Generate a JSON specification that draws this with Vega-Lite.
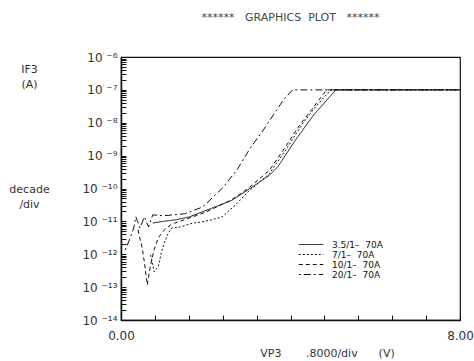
{
  "$schema": "https://vega.github.io/schema/vega-lite/v6.json",
  "width": 339,
  "height": 263,
  "autosize": "none",
  "padding": {"left": 121, "top": 57, "right": 14, "bottom": 41},
  "background": "white",
  "title": {
    "text": "******\u00a0\u00a0\u00a0GRAPHICS\u00a0\u00a0PLOT\u00a0\u00a0\u00a0******",
    "anchor": "middle",
    "font": "DejaVu Sans",
    "fontSize": 11,
    "fontWeight": "normal",
    "color": "#444",
    "offset": 28
  },
  "config": {
    "view": {"stroke": "#111", "strokeWidth": 1.2},
    "font": "DejaVu Sans"
  },
  "data": {
    "values": [
      {"s": "3.5/1–\u00a0\u00a070A", "v": 0.75, "i": 8.91e-12},
      {"s": "3.5/1–\u00a0\u00a070A", "v": 1.0, "i": 1e-11},
      {"s": "3.5/1–\u00a0\u00a070A", "v": 1.3, "i": 1.12e-11},
      {"s": "3.5/1–\u00a0\u00a070A", "v": 1.62, "i": 1.38e-11},
      {"s": "3.5/1–\u00a0\u00a070A", "v": 2.1, "i": 2.4e-11},
      {"s": "3.5/1–\u00a0\u00a070A", "v": 2.6, "i": 4.27e-11},
      {"s": "3.5/1–\u00a0\u00a070A", "v": 3.0, "i": 9.12e-11},
      {"s": "3.5/1–\u00a0\u00a070A", "v": 3.5, "i": 2.51e-10},
      {"s": "3.5/1–\u00a0\u00a070A", "v": 3.7, "i": 4.57e-10},
      {"s": "3.5/1–\u00a0\u00a070A", "v": 3.93, "i": 1.29e-9},
      {"s": "3.5/1–\u00a0\u00a070A", "v": 4.17, "i": 3.72e-9},
      {"s": "3.5/1–\u00a0\u00a070A", "v": 4.55, "i": 1.74e-8},
      {"s": "3.5/1–\u00a0\u00a070A", "v": 5.07, "i": 1e-7},
      {"s": "3.5/1–\u00a0\u00a070A", "v": 8.0, "i": 1e-7},

      {"s": "7/1–\u00a0\u00a070A", "v": 0.7, "i": 9.55e-13},
      {"s": "7/1–\u00a0\u00a070A", "v": 0.78, "i": 2.95e-13},
      {"s": "7/1–\u00a0\u00a070A", "v": 0.88, "i": 4.17e-13},
      {"s": "7/1–\u00a0\u00a070A", "v": 0.95, "i": 1.1e-12},
      {"s": "7/1–\u00a0\u00a070A", "v": 1.02, "i": 2.24e-12},
      {"s": "7/1–\u00a0\u00a070A", "v": 1.12, "i": 4.47e-12},
      {"s": "7/1–\u00a0\u00a070A", "v": 1.2, "i": 6.31e-12},
      {"s": "7/1–\u00a0\u00a070A", "v": 1.4, "i": 6.76e-12},
      {"s": "7/1–\u00a0\u00a070A", "v": 1.7, "i": 8.91e-12},
      {"s": "7/1–\u00a0\u00a070A", "v": 1.9, "i": 9.55e-12},
      {"s": "7/1–\u00a0\u00a070A", "v": 2.15, "i": 1.12e-11},
      {"s": "7/1–\u00a0\u00a070A", "v": 2.4, "i": 1.41e-11},
      {"s": "7/1–\u00a0\u00a070A", "v": 2.7, "i": 3.16e-11},
      {"s": "7/1–\u00a0\u00a070A", "v": 3.0, "i": 7.94e-11},
      {"s": "7/1–\u00a0\u00a070A", "v": 3.5, "i": 2.82e-10},
      {"s": "7/1–\u00a0\u00a070A", "v": 3.9, "i": 1.58e-9},
      {"s": "7/1–\u00a0\u00a070A", "v": 4.3, "i": 1e-8},
      {"s": "7/1–\u00a0\u00a070A", "v": 4.6, "i": 3.16e-8},
      {"s": "7/1–\u00a0\u00a070A", "v": 4.95, "i": 1e-7},
      {"s": "7/1–\u00a0\u00a070A", "v": 8.0, "i": 1e-7},

      {"s": "10/1–\u00a0\u00a070A", "v": 0.4, "i": 5.5e-12},
      {"s": "10/1–\u00a0\u00a070A", "v": 0.5, "i": 1.58e-12},
      {"s": "10/1–\u00a0\u00a070A", "v": 0.55, "i": 5.89e-13},
      {"s": "10/1–\u00a0\u00a070A", "v": 0.62, "i": 1.17e-13},
      {"s": "10/1–\u00a0\u00a070A", "v": 0.7, "i": 4.79e-13},
      {"s": "10/1–\u00a0\u00a070A", "v": 0.78, "i": 1.35e-12},
      {"s": "10/1–\u00a0\u00a070A", "v": 0.88, "i": 3.16e-12},
      {"s": "10/1–\u00a0\u00a070A", "v": 1.02, "i": 5.5e-12},
      {"s": "10/1–\u00a0\u00a070A", "v": 1.2, "i": 8.32e-12},
      {"s": "10/1–\u00a0\u00a070A", "v": 1.5, "i": 1.12e-11},
      {"s": "10/1–\u00a0\u00a070A", "v": 2.0, "i": 1.91e-11},
      {"s": "10/1–\u00a0\u00a070A", "v": 2.6, "i": 4.47e-11},
      {"s": "10/1–\u00a0\u00a070A", "v": 3.0, "i": 1e-10},
      {"s": "10/1–\u00a0\u00a070A", "v": 3.5, "i": 3.55e-10},
      {"s": "10/1–\u00a0\u00a070A", "v": 3.9, "i": 2.0e-9},
      {"s": "10/1–\u00a0\u00a070A", "v": 4.2, "i": 7.94e-9},
      {"s": "10/1–\u00a0\u00a070A", "v": 4.5, "i": 2.51e-8},
      {"s": "10/1–\u00a0\u00a070A", "v": 4.85, "i": 1e-7},
      {"s": "10/1–\u00a0\u00a070A", "v": 8.0, "i": 1e-7},

      {"s": "20/1–\u00a0\u00a070A", "v": 0.1, "i": 1.35e-12},
      {"s": "20/1–\u00a0\u00a070A", "v": 0.2, "i": 2.75e-12},
      {"s": "20/1–\u00a0\u00a070A", "v": 0.3, "i": 6.31e-12},
      {"s": "20/1–\u00a0\u00a070A", "v": 0.35, "i": 1.38e-11},
      {"s": "20/1–\u00a0\u00a070A", "v": 0.45, "i": 6.31e-12},
      {"s": "20/1–\u00a0\u00a070A", "v": 0.55, "i": 1.38e-11},
      {"s": "20/1–\u00a0\u00a070A", "v": 0.65, "i": 6.76e-12},
      {"s": "20/1–\u00a0\u00a070A", "v": 0.75, "i": 1.58e-11},
      {"s": "20/1–\u00a0\u00a070A", "v": 1.0, "i": 1.48e-11},
      {"s": "20/1–\u00a0\u00a070A", "v": 1.5, "i": 1.7e-11},
      {"s": "20/1–\u00a0\u00a070A", "v": 1.93, "i": 2.75e-11},
      {"s": "20/1–\u00a0\u00a070A", "v": 2.4, "i": 1.05e-10},
      {"s": "20/1–\u00a0\u00a070A", "v": 2.74, "i": 3.72e-10},
      {"s": "20/1–\u00a0\u00a070A", "v": 3.05, "i": 1.7e-9},
      {"s": "20/1–\u00a0\u00a070A", "v": 3.36, "i": 6.03e-9},
      {"s": "20/1–\u00a0\u00a070A", "v": 3.83, "i": 4.9e-8},
      {"s": "20/1–\u00a0\u00a070A", "v": 4.05, "i": 1e-7},
      {"s": "20/1–\u00a0\u00a070A", "v": 8.0, "i": 1e-7}
    ]
  },
  "mark": {"type": "line", "color": "#111", "strokeWidth": 1, "clip": true},
  "encoding": {
    "x": {
      "field": "v",
      "type": "quantitative",
      "scale": {"domain": [0, 8], "nice": false, "zero": false},
      "axis": {
        "values": [0, 0.8, 1.6, 2.4, 3.2, 4, 4.8, 5.6, 6.4, 7.2, 8],
        "labelExpr": "datum.value == 0 ? '0.00' : (datum.value == 8 ? '8.00' : '')",
        "grid": false,
        "tickSize": -5,
        "tickColor": "#111",
        "domainColor": "#111",
        "domainWidth": 1.5,
        "labelFont": "DejaVu Sans",
        "labelFontSize": 12,
        "labelColor": "#333",
        "labelPadding": 15,
        "labelFlush": false,
        "labelOverlap": false,
        "title": "VP3\u00a0\u00a0\u00a0\u00a0\u00a0\u00a0\u00a0.8000/div\u00a0\u00a0\u00a0\u00a0\u00a0\u00a0(V)",
        "titleFont": "DejaVu Sans",
        "titleFontSize": 11,
        "titleFontWeight": "normal",
        "titleColor": "#333",
        "titleX": 206,
        "titlePadding": 6
      }
    },
    "y": {
      "field": "i",
      "type": "quantitative",
      "scale": {"type": "log", "domain": [1e-14, 1e-6], "nice": false},
      "axis": {
        "values": [1e-14,2e-14,3e-14,4e-14,5e-14,6e-14,7e-14,8e-14,9e-14,
                   1e-13,2e-13,3e-13,4e-13,5e-13,6e-13,7e-13,8e-13,9e-13,
                   1e-12,2e-12,3e-12,4e-12,5e-12,6e-12,7e-12,8e-12,9e-12,
                   1e-11,2e-11,3e-11,4e-11,5e-11,6e-11,7e-11,8e-11,9e-11,
                   1e-10,2e-10,3e-10,4e-10,5e-10,6e-10,7e-10,8e-10,9e-10,
                   1e-9,2e-9,3e-9,4e-9,5e-9,6e-9,7e-9,8e-9,9e-9,
                   1e-8,2e-8,3e-8,4e-8,5e-8,6e-8,7e-8,8e-8,9e-8,
                   1e-7,2e-7,3e-7,4e-7,5e-7,6e-7,7e-7,8e-7,9e-7,1e-6],
        "labelExpr": "abs(log(datum.value)/LN10 - round(log(datum.value)/LN10)) < 0.01 ? ['10 ⁻¹⁴','10 ⁻¹³','10 ⁻¹²','10 ⁻¹¹','10 ⁻¹⁰','10 ⁻⁹','10 ⁻⁸','10 ⁻⁷','10 ⁻⁶'][round(log(datum.value)/LN10) + 14] : ''",
        "grid": false,
        "tickSize": -5,
        "tickColor": "#111",
        "domainColor": "#111",
        "domainWidth": 1.5,
        "labelFont": "DejaVu Sans",
        "labelFontSize": 12,
        "labelColor": "#333",
        "labelPadding": 9,
        "labelFlush": false,
        "labelOverlap": false,
        "title": ["IF3", "\u00a0(A)", "\u2800", "\u2800\u2800", "\u2800\u2800\u2800", "\u2800\u2800\u2800\u2800", "\u2800\u2800\u2800\u2800\u2800", "\u2800\u2800\u2800\u2800\u2800\u2800", "decade", "\u00a0\u00a0/div"],
        "titleAngle": 0,
        "titleAlign": "center",
        "titleBaseline": "alphabetic",
        "titleX": -92,
        "titleY": 15,
        "titleLineHeight": 15,
        "titleFont": "DejaVu Sans",
        "titleFontSize": 11,
        "titleFontWeight": "normal",
        "titleColor": "#333"
      }
    },
    "strokeDash": {
      "field": "s",
      "type": "nominal",
      "scale": {
        "domain": ["3.5/1–\u00a0\u00a070A", "7/1–\u00a0\u00a070A", "10/1–\u00a0\u00a070A", "20/1–\u00a0\u00a070A"],
        "range": [[1, 0], [2, 2], [4, 3], [2, 3, 7, 3]]
      },
      "legend": {
        "orient": "none",
        "legendX": 177,
        "legendY": 183,
        "title": null,
        "symbolType": "stroke",
        "symbolSize": 600,
        "symbolStrokeColor": "#111",
        "symbolStrokeWidth": 1,
        "labelFont": "DejaVu Sans",
        "labelFontSize": 9,
        "labelColor": "#111",
        "rowPadding": 0,
        "clipHeight": 9,
        "labelOffset": 8
      }
    }
  }
}
